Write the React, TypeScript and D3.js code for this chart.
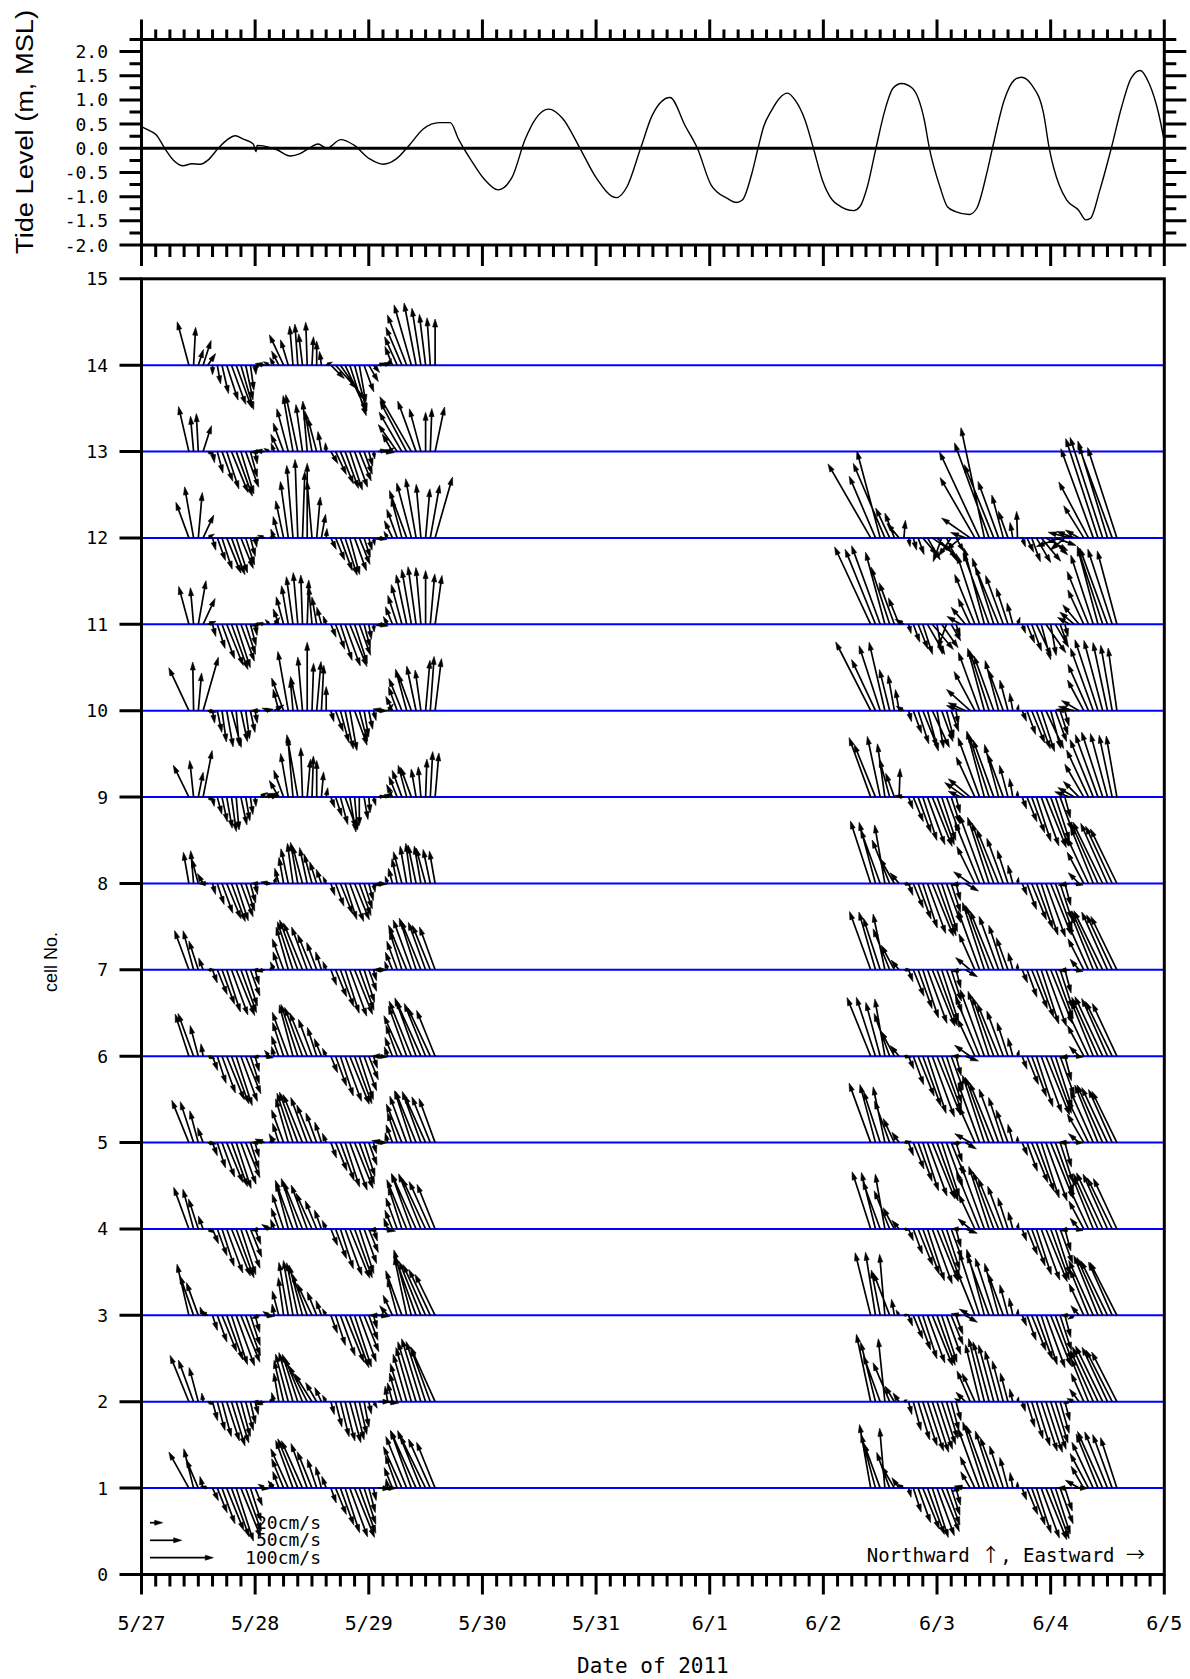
import React from 'react';
import * as d3 from 'd3';

// ---------------- layout constants ----------------
const W = 1190;
const H = 1679;
const X0 = 141.5;
const X1 = 1164.3;
const TIDE_TOP = 39.5;
const TIDE_BOT = 245;
const CELL_TOP = 278.8;
const CELL_BOT = 1574.5;

// ---------------- data ----------------
const dateLabels = ['5/27', '5/28', '5/29', '5/30', '5/31', '6/1', '6/2', '6/3', '6/4', '6/5'];
const tideTickValues = [-2.0, -1.5, -1.0, -0.5, 0.0, 0.5, 1.0, 1.5, 2.0];
const cellTickValues = [0, 1, 2, 3, 4, 5, 6, 7, 8, 9, 10, 11, 12, 13, 14, 15];
const legendSpeeds = [20, 50, 100];

// tide: hours since 5/27 00:00, level (m, MSL)
const tideHours = [0, 1.4, 3.1, 4.9, 6.7, 8.8, 10.6, 12.4, 14.1, 16.2, 18, 19.8, 21.5, 23.6, 24.2, 24.4, 25.7, 28.6, 31.4, 33.5, 35.7, 37.3, 39.1, 42.1, 44.8, 48.2, 51.1, 53.8, 56.6, 59.5, 62.9, 65.2, 67, 69.7, 72.4, 75.3, 78.3, 81, 83.3, 86, 88.9, 92.6, 95.9, 100.3, 102.5, 105.4, 107.9, 111.6, 114.9, 117.4, 120.3, 121.5, 123.6, 125.6, 126.9, 128.9, 130.2, 131.4, 133.1, 134.7, 136.4, 138.0, 140.1, 141.9, 143.8, 145.9, 147.1, 150.4, 151.7, 153.3, 155.1, 157.0, 158.7, 160.5, 162.8, 165.3, 166.4, 168.6, 170.2, 171.9, 174.8, 176.4, 178.5, 179.7, 182.2, 184.3, 185.8, 188.0, 190.5, 191.7, 193.8, 195.4, 197.9, 199.4, 200.4, 202.4, 204.8, 207.0, 209.0, 210.9, 212.8, 214.8, 216];
const tideLevels = [0.45, 0.38, 0.28, 0.0, -0.24, -0.36, -0.32, -0.33, -0.24, 0.0, 0.17, 0.26, 0.19, 0.09, -0.07, 0.06, 0.05, -0.03, -0.16, -0.11, 0.02, 0.09, 0.0, 0.18, 0.07, -0.22, -0.33, -0.22, 0.07, 0.4, 0.53, 0.53, 0.18, -0.26, -0.64, -0.86, -0.59, 0.18, 0.62, 0.81, 0.62, 0.0, -0.59, -1.02, -0.8, 0.0, 0.69, 1.05, 0.45, 0.0, -0.76, -0.9, -1.03, -1.12, -1.07, -0.52, 0.0, 0.45, 0.79, 1.03, 1.14, 1.0, 0.59, 0.0, -0.66, -1.07, -1.17, -1.29, -1.21, -0.79, 0.0, 0.79, 1.24, 1.34, 1.24, 0.59, 0.0, -0.79, -1.21, -1.31, -1.37, -1.24, -0.52, 0.0, 1.0, 1.41, 1.47, 1.31, 0.72, 0.0, -0.76, -1.07, -1.28, -1.48, -1.45, -0.86, 0.0, 0.86, 1.45, 1.61, 1.34, 0.72, 0.15];

// current vectors: hourly [speed cm/s, direction deg (0=N, 90=E)]
const blockAStartHour = 10; // 5/27 10:00
const blockBStartHour = 154; // 6/2 10:00

const c01a = [[65,331],[64,346],[49,337],[19,345],[12,285],[22,155],[42,158],[60,160],[72,158],[82,160],[88,162],[84,158],[72,160],[55,162],[30,158],[14,95],[12,300],[10,20],[15,320],[28,340],[50,338],[68,336],[80,340],[84,338],[82,336],[75,340],[62,338],[48,342],[35,345],[20,340],[25,160],[45,158],[62,160],[74,162],[82,160],[84,158],[76,160],[60,162],[40,165],[20,168],[20,92],[22,90],[15,350],[35,338],[55,340],[72,336],[88,338],[96,340],[100,336],[98,338],[92,334],[85,336],[78,338]];
const c02a = [[79,338],[70,340],[56,345],[14,352],[11,115],[31,165],[47,165],[57,165],[65,162],[73,163],[68,163],[57,165],[47,165],[36,167],[21,166],[11,270],[16,252],[10,55],[15,345],[46,350],[67,347],[78,345],[81,344],[79,342],[75,338],[64,333],[52,328],[35,330],[25,335],[12,330],[21,165],[41,166],[57,166],[64,166],[67,165],[62,166],[53,167],[41,169],[20,168],[12,150],[20,90],[25,95],[25,350],[31,345],[47,345],[63,343],[78,344],[89,344],[99,343],[104,343],[100,342],[90,340],[95,336]];
const c03a = [[83,347],[66,341],[55,340],[14,340],[14,300],[25,162],[45,160],[62,158],[75,160],[82,162],[85,160],[80,158],[68,160],[50,162],[28,165],[14,250],[16,95],[12,300],[18,350],[40,345],[60,352],[85,350],[88,350],[85,348],[82,345],[70,340],[55,335],[40,338],[25,340],[12,330],[30,160],[50,162],[68,160],[80,158],[88,160],[86,162],[78,160],[62,158],[42,160],[22,165],[18,95],[22,270],[20,320],[35,335],[60,345],[75,340],[95,348],[107,345],[100,340],[92,338],[88,336],[80,335],[72,334]];
const c04a = [[70,340],[65,345],[50,342],[22,340],[12,120],[25,158],[45,160],[62,162],[74,160],[80,158],[82,160],[76,162],[66,160],[48,158],[26,160],[15,260],[12,80],[14,300],[16,340],[35,340],[58,342],[75,345],[82,340],[84,342],[80,338],[74,340],[62,336],[48,338],[32,340],[15,335],[28,158],[50,160],[66,162],[78,160],[84,158],[82,160],[74,162],[58,160],[40,158],[20,162],[16,260],[20,100],[18,340],[32,338],[52,340],[70,342],[84,338],[92,340],[96,336],[94,338],[88,335],[82,336],[76,338]];
const c05a = [[72,338],[68,342],[52,345],[25,340],[14,100],[22,160],[42,162],[58,160],[68,158],[74,160],[76,162],[70,160],[60,158],[44,162],[24,165],[14,270],[16,290],[12,60],[16,330],[32,342],[55,340],[72,344],[82,342],[85,340],[82,338],[76,340],[64,338],[50,340],[34,342],[16,338],[26,160],[48,158],[64,160],[74,162],[80,160],[78,158],[70,160],[56,162],[38,160],[18,165],[14,90],[18,280],[16,345],[30,340],[50,342],[66,338],[78,340],[86,342],[88,338],[86,340],[82,336],[78,338],[74,340]];
const c06a = [[70,342],[72,340],[50,345],[20,350],[12,110],[24,160],[45,162],[62,160],[74,158],[80,160],[82,162],[76,160],[64,158],[46,162],[25,165],[12,260],[14,100],[12,320],[16,345],[34,340],[56,342],[74,340],[84,345],[86,342],[82,340],[74,338],[62,340],[48,342],[30,338],[14,335],[28,158],[50,160],[66,162],[76,160],[82,158],[80,160],[72,162],[58,160],[40,158],[20,162],[15,95],[18,270],[16,340],[32,338],[52,340],[70,336],[84,340],[94,338],[98,340],[96,336],[90,338],[84,335],[78,338]];
const c07a = [[66,340],[64,345],[48,342],[20,340],[12,90],[22,160],[42,158],[58,160],[70,162],[76,160],[78,158],[72,160],[60,162],[44,160],[24,165],[12,270],[14,260],[10,60],[14,335],[30,342],[52,340],[70,344],[80,342],[84,340],[80,338],[72,340],[60,338],[46,340],[30,342],[14,338],[26,160],[46,158],[62,160],[72,162],[78,160],[76,158],[68,160],[54,162],[36,160],[18,165],[14,90],[16,270],[14,340],[30,338],[48,340],[64,342],[76,338],[84,340],[86,342],[84,338],[80,340],[76,338],[72,340]];
const c08a = [[50,350],[52,355],[40,345],[18,330],[15,270],[18,165],[35,162],[50,160],[60,158],[64,160],[62,162],[56,160],[46,162],[32,165],[18,168],[14,270],[12,90],[14,280],[12,20],[25,345],[42,350],[56,348],[64,352],[66,350],[62,345],[58,348],[48,345],[36,342],[24,340],[12,335],[20,162],[38,160],[52,158],[60,162],[64,160],[62,158],[54,160],[42,162],[28,165],[14,170],[14,95],[16,260],[12,340],[25,345],[40,348],[52,345],[60,350],[64,352],[62,348],[60,350],[58,345],[55,348],[52,350]];
const c09a = [[56,334],[58,354],[40,11],[75,11],[12,120],[15,170],[28,165],[40,168],[50,170],[55,172],[52,175],[45,168],[38,170],[28,172],[15,175],[14,60],[18,70],[16,80],[12,40],[30,330],[45,340],[70,350],[95,355],[100,350],[78,358],[60,5],[65,2],[58,0],[40,5],[15,10],[18,160],[32,162],[45,165],[52,160],[56,170],[52,175],[45,180],[36,170],[25,175],[14,165],[12,80],[14,70],[12,40],[22,335],[35,338],[45,340],[52,345],[50,340],[45,350],[48,355],[60,2],[72,3],[70,5]];
const c10a = [[75,335],[77,359],[60,5],[88,16],[14,100],[20,170],[35,168],[50,172],[58,170],[60,165],[56,175],[50,168],[45,172],[35,168],[20,170],[15,270],[14,80],[12,290],[18,60],[35,345],[55,340],[95,350],[50,355],[55,348],[85,355],[108,0],[75,2],[78,5],[72,3],[38,0],[18,165],[35,160],[52,165],[62,168],[64,170],[58,160],[50,165],[42,170],[30,168],[16,165],[14,90],[16,280],[14,40],[25,335],[40,340],[55,338],[68,345],[62,340],[72,348],[65,352],[80,5],[86,4],[83,7]];
const c11a = [[62,345],[58,355],[70,10],[45,25],[14,70],[20,165],[40,162],[58,160],[70,158],[76,160],[72,162],[62,160],[50,162],[35,165],[18,170],[14,260],[12,280],[10,320],[14,40],[26,340],[45,345],[62,350],[76,352],[82,355],[78,358],[70,2],[60,355],[44,350],[28,345],[14,340],[22,158],[42,160],[60,162],[70,160],[72,158],[65,162],[52,160],[38,165],[24,170],[12,175],[16,100],[12,260],[14,330],[30,338],[48,342],[65,345],[80,348],[88,350],[92,352],[90,355],[85,0],[80,5],[78,8]];
const c12a = [[60,340],[82,350],[72,5],[40,25],[12,60],[20,165],[38,160],[52,162],[60,158],[62,160],[58,162],[52,158],[45,162],[30,165],[15,170],[14,250],[12,290],[10,80],[15,340],[35,345],[60,348],[90,352],[115,355],[124,358],[105,2],[118,0],[90,355],[65,5],[38,10],[15,5],[20,155],[38,158],[55,160],[62,162],[60,165],[55,160],[45,158],[32,162],[20,165],[12,170],[14,100],[12,260],[12,330],[30,335],[48,340],[65,345],[80,340],[90,345],[95,350],[85,355],[78,5],[85,10],[100,16]];
const c13a = [[73,347],[56,355],[60,357],[43,18],[11,120],[18,170],[35,165],[50,160],[62,162],[70,158],[75,160],[70,163],[60,160],[42,165],[20,170],[15,265],[16,275],[10,300],[14,340],[30,335],[48,340],[70,345],[90,350],[92,348],[75,352],[80,355],[65,350],[55,345],[32,350],[14,355],[22,150],[40,155],[55,158],[62,160],[64,162],[60,160],[50,158],[38,160],[24,165],[12,170],[15,80],[18,95],[12,60],[32,330],[52,325],[72,330],[90,332],[100,330],[85,340],[70,345],[62,0],[68,2],[72,12]];
const c14a = [[71,345],[60,3],[26,18],[41,18],[22,34],[15,180],[30,170],[46,167],[58,162],[66,160],[72,160],[73,164],[56,168],[40,172],[15,175],[12,255],[15,280],[11,300],[14,330],[25,333],[53,335],[42,343],[62,355],[65,356],[50,353],[68,358],[45,3],[38,0],[22,352],[11,63],[30,135],[50,138],[68,145],[80,155],[84,162],[75,165],[60,170],[45,160],[30,150],[15,140],[12,72],[14,75],[12,30],[32,338],[49,336],[65,337],[85,339],[99,344],[100,349],[91,351],[81,353],[75,356],[73,0]];

const c01b = [[102,350],[88,345],[75,340],[95,355],[60,340],[40,330],[20,325],[12,300],[15,165],[40,162],[58,160],[70,158],[78,160],[82,162],[80,160],[74,158],[62,160],[45,162],[28,165],[15,250],[18,280],[30,330],[55,335],[100,340],[110,342],[105,340],[95,342],[85,340],[70,342],[50,345],[25,350],[10,0],[20,160],[45,158],[62,160],[75,162],[84,160],[88,158],[85,160],[76,162],[60,160],[38,162],[20,270],[22,90],[25,300],[40,330],[62,332],[80,335],[92,338],[98,336],[96,338],[90,340],[84,342]];
const c02b = [[109,348],[97,346],[77,340],[100,354],[67,337],[29,329],[17,325],[6,60],[21,166],[47,165],[63,163],[73,162],[82,162],[84,162],[79,162],[71,162],[61,163],[47,165],[31,165],[11,297],[21,315],[53,337],[49,336],[93,346],[103,346],[98,345],[93,345],[83,345],[67,345],[47,345],[21,346],[8,14],[16,162],[42,163],[61,163],[73,163],[82,162],[84,162],[79,162],[68,163],[52,164],[31,165],[10,253],[13,293],[25,323],[49,336],[74,338],[89,336],[96,335],[98,334],[95,335],[92,333],[88,333]];
const c03b = [[102,346],[101,351],[73,349],[97,355],[72,339],[26,350],[10,330],[8,80],[18,160],[40,158],[58,160],[72,162],[80,160],[86,158],[84,160],[78,162],[66,160],[50,158],[32,160],[15,280],[22,120],[20,300],[75,338],[105,342],[108,345],[102,340],[95,342],[85,345],[70,340],[50,345],[28,348],[10,5],[18,158],[42,160],[60,158],[74,160],[82,162],[88,160],[86,158],[76,160],[58,162],[36,165],[14,270],[12,240],[20,320],[55,335],[78,338],[95,336],[102,338],[100,336],[96,334],[92,336],[94,333]];
const c04b = [[95,342],[92,346],[80,340],[88,350],[65,338],[38,332],[18,320],[10,100],[20,158],[42,160],[62,158],[76,160],[86,162],[92,160],[90,158],[82,160],[68,162],[50,160],[30,165],[15,270],[20,110],[25,310],[60,335],[98,338],[108,340],[104,342],[96,340],[86,338],[72,340],[52,342],[28,345],[10,10],[20,160],[44,158],[62,160],[76,162],[86,160],[90,158],[86,160],[76,162],[58,160],[36,165],[16,260],[14,100],[22,320],[50,332],[72,335],[88,338],[96,336],[98,335],[95,336],[90,334],[88,335]];
const c05b = [[100,340],[95,345],[85,342],[90,348],[70,340],[42,335],[20,325],[12,80],[22,160],[45,158],[65,160],[80,162],[90,160],[96,158],[98,160],[90,162],[75,160],[55,158],[32,162],[14,260],[20,120],[28,300],[62,336],[100,340],[112,342],[110,340],[102,338],[90,340],[75,342],[55,340],[30,345],[10,0],[22,158],[48,160],[68,158],[82,160],[92,162],[98,160],[95,158],[85,160],[66,162],[40,165],[18,270],[14,90],[22,310],[52,330],[75,334],[90,336],[98,338],[100,336],[96,335],[92,336],[90,334]];
const c06b = [[100,338],[98,342],[88,345],[92,350],[72,340],[45,332],[22,320],[12,100],[22,158],[48,160],[68,158],[84,160],[95,162],[102,160],[100,158],[92,160],[78,162],[56,160],[32,165],[15,270],[22,110],[30,305],[65,335],[102,338],[112,340],[108,342],[100,340],[90,338],[76,340],[56,342],[30,345],[10,15],[22,160],[48,158],[68,160],[84,162],[95,160],[100,158],[96,160],[86,162],[66,160],[40,165],[16,260],[14,95],[22,315],[55,332],[78,335],[94,338],[102,336],[104,335],[100,336],[96,334],[92,335]];
const c07b = [[98,340],[95,344],[86,342],[90,348],[70,338],[44,332],[20,320],[12,90],[20,160],[45,158],[65,160],[80,162],[90,160],[96,158],[94,160],[86,162],[72,160],[52,162],[30,165],[15,260],[22,120],[30,310],[62,336],[100,340],[112,342],[108,340],[100,338],[90,340],[74,342],[54,340],[28,345],[10,0],[22,158],[46,160],[66,158],[80,160],[90,162],[95,160],[92,158],[82,160],[64,162],[38,165],[18,265],[14,100],[22,320],[55,333],[78,336],[94,338],[102,336],[104,334],[100,336],[96,335],[94,334]];
const c08b = [[104,342],[100,345],[90,340],[94,350],[74,338],[46,330],[22,320],[12,100],[20,160],[42,158],[60,160],[74,162],[84,160],[90,158],[88,160],[80,162],[66,160],[48,162],[28,165],[16,260],[24,120],[32,305],[65,334],[104,338],[115,340],[110,342],[102,340],[92,338],[76,340],[55,342],[30,345],[10,10],[20,158],[44,160],[62,158],[76,160],[86,162],[90,160],[88,158],[78,160],[60,162],[36,165],[18,260],[14,100],[24,315],[56,332],[80,335],[96,338],[104,336],[108,334],[104,336],[100,335],[96,334]];
const c09b = [[100,340],[90,338],[98,348],[85,352],[62,345],[40,340],[45,2],[14,280],[20,160],[42,158],[60,160],[72,162],[80,160],[84,158],[80,160],[72,162],[60,160],[44,162],[26,165],[22,295],[40,305],[45,310],[70,335],[100,340],[108,345],[104,342],[96,340],[86,345],[72,340],[52,345],[30,350],[10,0],[20,160],[42,158],[60,160],[74,162],[82,160],[86,158],[82,160],[72,162],[56,160],[34,165],[25,290],[30,300],[35,315],[60,330],[82,335],[98,338],[105,340],[108,342],[104,345],[100,348],[98,350]];
const c10b = [[122,333],[89,335],[108,342],[111,347],[67,346],[57,350],[34,350],[14,300],[18,165],[38,160],[55,162],[62,158],[66,165],[64,155],[60,170],[52,160],[45,165],[35,160],[22,170],[24,290],[30,295],[50,312],[70,332],[98,340],[102,345],[100,342],[92,340],[82,345],[68,340],[50,345],[28,350],[10,10],[18,158],[40,160],[55,158],[64,160],[68,162],[66,155],[62,165],[52,160],[40,162],[25,165],[22,275],[26,285],[32,300],[55,332],[80,336],[105,340],[118,342],[115,345],[110,348],[105,350],[100,352]];
const c11b = [[135,335],[128,338],[132,340],[118,345],[95,342],[70,340],[45,338],[16,300],[15,165],[30,160],[42,158],[50,162],[55,150],[52,140],[48,170],[45,145],[40,200],[30,150],[20,160],[25,300],[35,320],[45,335],[85,338],[115,342],[125,345],[120,340],[110,342],[98,338],[82,340],[60,342],[35,345],[12,20],[15,160],[32,158],[45,160],[55,155],[58,165],[55,145],[50,170],[42,150],[32,160],[20,165],[22,300],[30,310],[40,320],[60,335],[90,338],[115,342],[125,345],[130,342],[128,340],[125,342],[120,345]];
const c12b = [[135,330],[106,337],[142,345],[128,337],[52,335],[42,339],[30,320],[28,5],[14,170],[20,165],[28,160],[35,140],[40,150],[38,125],[45,135],[40,200],[42,155],[35,215],[25,150],[30,230],[25,290],[55,305],[110,330],[150,335],[178,348],[160,340],[125,338],[95,340],[70,345],[45,340],[25,350],[42,358],[15,160],[25,155],[40,160],[45,150],[48,140],[40,120],[38,135],[35,110],[40,250],[30,230],[35,285],[30,290],[25,300],[60,328],[100,332],[150,340],[165,342],[167,342],[160,343],[155,340],[150,342]];

const blockARows = [c01a, c02a, c03a, c04a, c05a, c06a, c07a, c08a, c09a, c10a, c11a, c12a, c13a, c14a];
const blockBRows = [c01b, c02b, c03b, c04b, c05b, c06b, c07b, c08b, c09b, c10b, c11b, c12b];

// ---------------- helpers ----------------
function arrowPaths(bx: number, by: number, tx: number, ty: number) {
  const dx = tx - bx;
  const dy = ty - by;
  const len = Math.hypot(dx, dy);
  if (len < 0.3) return { shaft: '', head: '' };
  const ux = dx / len;
  const uy = dy / len;
  const hl = Math.min(8, len * 0.75);
  const hw = Math.max(1.3, 2.5 * Math.min(1, hl / 8));
  const px = -uy;
  const py = ux;
  const hx = tx - ux * hl;
  const hy = ty - uy * hl;
  const shaft = `M${bx.toFixed(1)},${by.toFixed(1)}L${(tx - ux * hl * 0.5).toFixed(1)},${(ty - uy * hl * 0.5).toFixed(1)}`;
  const head = `M${tx.toFixed(1)},${ty.toFixed(1)}L${(hx + px * hw).toFixed(1)},${(hy + py * hw).toFixed(1)}L${(hx - px * hw).toFixed(1)},${(hy - py * hw).toFixed(1)}Z`;
  return { shaft, head };
}

export default function App() {
  const x = d3.scaleLinear().domain([0, 9]).range([X0, X1]);
  const yT = d3.scaleLinear().domain([-2, 2.25]).range([TIDE_BOT, TIDE_TOP]);
  const yC = d3.scaleLinear().domain([0, 15]).range([CELL_BOT, CELL_TOP]);
  const sp = d3.scaleLinear().domain([0, 100]).range([0, 63.3]);

  const tidePts: [number, number][] = tideHours.map((h, i) => [h, tideLevels[i]]);
  const tideLine = d3
    .line<[number, number]>()
    .x((d) => x(d[0] / 24))
    .y((d) => yT(d[1]))
    .curve(d3.curveMonotoneX);

  let shafts = '';
  let heads = '';
  const addRow = (rows: number[][][], startHour: number) => {
    rows.forEach((row, ri) => {
      const cell = ri + 1;
      row.forEach((v, i) => {
        const [s, dir] = v;
        const rad = (dir * Math.PI) / 180;
        const u = s * Math.sin(rad);
        const w = s * Math.cos(rad);
        const bx = x((startHour + i) / 24);
        const by = yC(cell);
        const tx = bx + (u >= 0 ? sp(u) : -sp(-u));
        const ty = by - (w >= 0 ? sp(w) : -sp(-w));
        const p = arrowPaths(bx, by, tx, ty);
        shafts += p.shaft;
        heads += p.head;
      });
    });
  };
  addRow(blockARows, blockAStartHour);
  addRow(blockBRows, blockBStartHour);

  const days = d3.range(0, 10);
  const minor = d3.range(0, 73).filter((i) => i % 8 !== 0).map((i) => i / 8);
  const tideTicksAll = d3.range(0, 18).map((i) => -2 + i * 0.25);

  let ticks = '';
  days.forEach((d) => (ticks += `M${x(d)},${TIDE_TOP}V${TIDE_TOP - 20}`));
  minor.forEach((d) => (ticks += `M${x(d)},${TIDE_TOP}V${TIDE_TOP - 10}`));
  days.forEach((d) => (ticks += `M${x(d)},${TIDE_BOT}V${TIDE_BOT + 21}`));
  minor.forEach((d) => (ticks += `M${x(d)},${TIDE_BOT}V${TIDE_BOT + 12}`));
  tideTicksAll.forEach((v, i) => {
    const len = i % 2 === 0 ? 22 : 12;
    ticks += `M${X0},${yT(v)}H${X0 - len}`;
    ticks += `M${X1},${yT(v)}H${X1 + len}`;
  });
  cellTickValues.forEach((v) => (ticks += `M${X0},${yC(v)}H${X0 - 22}`));
  days.forEach((d) => (ticks += `M${x(d)},${CELL_BOT}V${CELL_BOT + 20}`));
  minor.forEach((d) => (ticks += `M${x(d)},${CELL_BOT}V${CELL_BOT + 12}`));

  const sans = '"Liberation Sans", Arial, sans-serif';
  const mono = '"DejaVu Sans Mono", monospace';
  const cjk = '"Noto Sans CJK JP", sans-serif';

  const legendY = [1522.7, 1540.3, 1557.7];
  const legendX = X0 + 8.5;

  return (
    <svg
      width={W}
      height={H}
      viewBox={`0 0 ${W} ${H}`}
      style={{ position: 'absolute', left: 0, top: 0, background: '#fff' }}
    >
      <rect x={0} y={0} width={W} height={H} fill="#fff" />
      {d3.range(1, 15).map((c) => (
        <line key={c} x1={X0} x2={X1} y1={yC(c)} y2={yC(c)} stroke="#0000ff" strokeWidth={2} />
      ))}
      <path d={shafts} stroke="#000" strokeWidth={1.7} fill="none" />
      <path d={heads} stroke="#000" strokeWidth={0.6} fill="#000" />

      <line x1={X0} x2={X1} y1={yT(0)} y2={yT(0)} stroke="#000" strokeWidth={3} />
      <path d={tideLine(tidePts) || ''} stroke="#000" strokeWidth={1.4} fill="none" />

      <rect x={X0} y={TIDE_TOP} width={X1 - X0} height={TIDE_BOT - TIDE_TOP} fill="none" stroke="#000" strokeWidth={3} />
      <rect x={X0} y={CELL_TOP} width={X1 - X0} height={CELL_BOT - CELL_TOP} fill="none" stroke="#000" strokeWidth={3} />
      <path d={ticks} stroke="#000" strokeWidth={3} fill="none" />

      {tideTickValues.map((v) => (
        <text key={v} x={108} y={yT(v) + 6.5} textAnchor="end" fontFamily={mono} fontSize={18}>
          {v.toFixed(1)}
        </text>
      ))}
      {cellTickValues.map((v) => (
        <text key={v} x={108} y={yC(v) + 6.5} textAnchor="end" fontFamily={mono} fontSize={18}>
          {v}
        </text>
      ))}
      {dateLabels.map((lab, i) => (
        <text key={lab} x={x(i)} y={1630} textAnchor="middle" fontFamily={mono} fontSize={20}>
          {lab}
        </text>
      ))}
      <text x={(X0 + X1) / 2} y={1673} textAnchor="middle" fontFamily={mono} fontSize={21}>
        Date of 2011
      </text>
      <text
        transform="translate(33,132) rotate(-90)"
        textAnchor="middle"
        fontFamily={sans}
        fontSize={23}
        textLength={244}
        lengthAdjust="spacingAndGlyphs"
      >
        Tide Level (m, MSL)
      </text>
      <text transform="translate(57,962) rotate(-90)" textAnchor="middle" fontFamily={sans} fontSize={18}>
        cell No.
      </text>
      <text x={1145} y={1562} textAnchor="end" fontFamily={mono} fontSize={19}>
        Northward <tspan fontFamily={cjk}>↑</tspan>, Eastward <tspan fontFamily={cjk}>→</tspan>
      </text>

      {legendSpeeds.map((s, i) => {
        const p = arrowPaths(legendX, legendY[i], legendX + sp(s), legendY[i]);
        return (
          <g key={s}>
            <path d={p.shaft} stroke="#000" strokeWidth={1.7} fill="none" />
            <path d={p.head} stroke="#000" strokeWidth={0.6} fill="#000" />
            <text x={321} y={legendY[i] + 6} textAnchor="end" fontFamily={mono} fontSize={18}>
              {`${s}cm/s`}
            </text>
          </g>
        );
      })}
    </svg>
  );
}
